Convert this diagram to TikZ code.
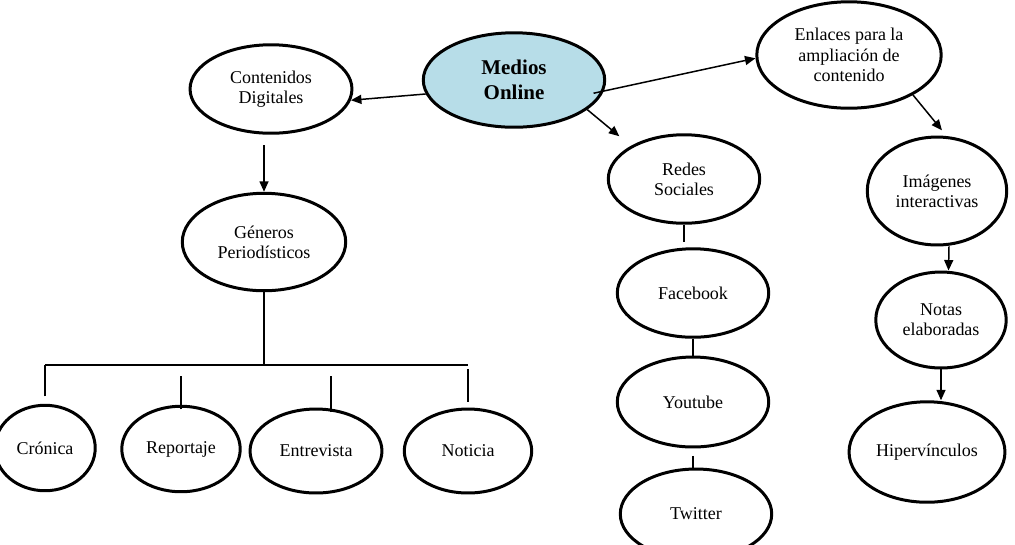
\documentclass[tikz,border=0pt]{standalone}
\usepackage{fontspec}
\setmainfont{Liberation Serif}
\definecolor{celeste}{RGB}{183,221,232}
\usetikzlibrary{arrows.meta,shapes.geometric}

\begin{document}
\begin{tikzpicture}[x=0.667pt, y=-0.667pt,
    burbuja/.style={ellipse, draw=black, line width=2pt, align=center,
                    inner sep=1pt, font=\fontsize{12}{13.5}\selectfont},
    flecha/.style={-{Triangle[length=7pt,width=6pt]}, line width=1pt},
    rama/.style={line width=1pt}]
  \useasboundingbox (0,0) rectangle (1015,544);

  % nodo central
  \node[burbuja, fill=celeste, minimum width=121pt, minimum height=63pt,
        font=\bfseries\fontsize{14}{16.5}\selectfont] (medios) at (514,80) {Medios\\Online};

  % rama izquierda
  \node[burbuja, minimum width=108pt, minimum height=59pt] (contenidos) at (271,89) {Contenidos\\Digitales};
  \node[burbuja, minimum width=109pt, minimum height=65pt] (generos) at (264,242) {Géneros\\Periodísticos};
  \node[burbuja, minimum width=67pt, minimum height=57pt] (cronica) at (45,448) {Crónica};
  \node[burbuja, minimum width=79pt, minimum height=57pt] (reportaje) at (181,449) {Reportaje};
  \node[burbuja, minimum width=88pt, minimum height=56pt] (entrevista) at (316,451) {Entrevista};
  \node[burbuja, minimum width=85pt, minimum height=56pt] (noticia) at (468,451) {Noticia};

  % redes sociales
  \node[burbuja, minimum width=101pt, minimum height=59pt] (redes) at (684,179) {Redes\\Sociales};
  \node[burbuja, minimum width=101pt, minimum height=59pt] (facebook) at (693,293) {Facebook};
  \node[burbuja, minimum width=101pt, minimum height=60pt] (youtube) at (693,402) {Youtube};
  \node[burbuja, minimum width=101pt, minimum height=60pt] (twitter) at (696,514) {Twitter};

  % enlaces
  \node[burbuja, minimum width=123pt, minimum height=71pt] (enlaces) at (849,55) {Enlaces para la\\ampliación de\\contenido};
  \node[burbuja, minimum width=93pt, minimum height=72pt] (imagenes) at (937,191) {Imágenes\\interactivas};
  \node[burbuja, minimum width=87pt, minimum height=64pt] (notas) at (941,320) {Notas\\elaboradas};
  \node[burbuja, minimum width=104pt, minimum height=67pt] (hiper) at (927,452) {Hipervínculos};

  % flechas desde el centro
  \draw[flecha] (medios.189) -- (contenidos.352);
  \draw[flecha, shorten <=-7pt] (medios.353) -- (enlaces.182);
  \draw[flecha, shorten >=10pt] (medios.338) -- (redes.148);
  \draw[flecha, shorten >=5pt] (enlaces.328) -- (imagenes.80);
  \draw[flecha, shorten <=7pt] (contenidos.south -| generos.north) -- (generos.north);

  % arbol de generos
  \coordinate (bus) at (264,365);
  \draw[rama] (generos.south) -- (bus);
  \draw[rama] (cronica.north |- bus) -- (noticia.north |- bus);
  \draw[rama] ([yshift=5pt]cronica.north) -- (cronica.north |- bus);
  \draw[rama] ([yshift=-3pt]reportaje.north) -- ++(0,-33);
  \draw[rama] ([xshift=10pt,yshift=-3pt]entrevista.north) -- ++(0,-36);
  \draw[rama] ([yshift=4pt]noticia.north) -- ++(0,-33);

  % cadena de redes
  \draw[rama] (redes.south) -- ++(0,17);
  \draw[rama] (facebook) -- (youtube);
  \draw[rama, shorten <=5pt] (youtube.south) -- (youtube.south |- twitter.north);

  % cadena de enlaces
  \draw[flecha] ([xshift=8pt]imagenes.south) -- ([xshift=5pt]notas.north);
  \draw[flecha] (notas.south) -- (notas.south |- hiper.north);
\end{tikzpicture}
\end{document}
